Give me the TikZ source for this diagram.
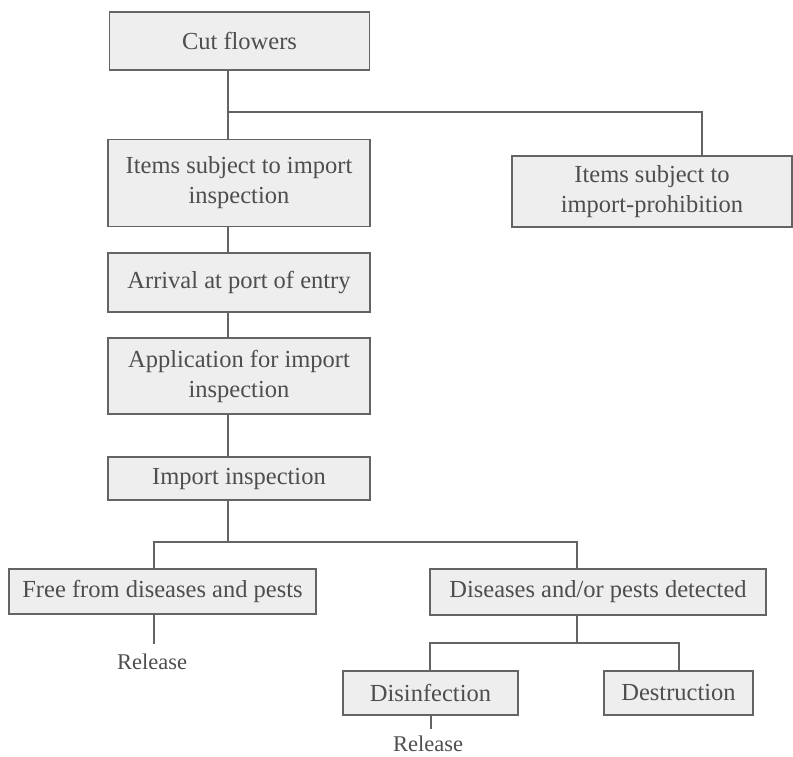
\documentclass[tikz,border=0pt]{standalone}
\usepackage{fontspec}
\setmainfont{Liberation Serif}
\usetikzlibrary{calc}
\definecolor{boxfill}{HTML}{EEEEEE}
\definecolor{boxline}{HTML}{646464}
\definecolor{boxtext}{HTML}{4E4E4E}
\tikzset{
  stagebox/.style={draw=boxline, fill=boxfill, line width=1.5pt, align=center,
    inner sep=0pt, text=boxtext, font=\fontsize{24.5}{30}\selectfont},
  link/.style={draw=boxline, line width=1.5pt},
  endlabel/.style={text=boxtext, font=\fontsize{22.5}{26}\selectfont}
}

\begin{document}
\begin{tikzpicture}[x=1pt,y=-1pt]
	\useasboundingbox (0,0) rectangle (793,757);
	% boxes
	\node [stagebox, minimum width=260pt, minimum height=58pt] (cut) at (239.5,41) {Cut flowers};
	\node [stagebox, minimum width=262pt, minimum height=87pt] (items) at (239,183) {Items subject to import\\inspection};
	\node [stagebox, minimum width=280pt, minimum height=71pt] (prohib) at (652,191.5) {Items subject to\\import-prohibition};
	\node [stagebox, minimum width=262pt, minimum height=59pt] (arrival) at (239,282.5) {Arrival at port of entry};
	\node [stagebox, minimum width=262pt, minimum height=76pt] (appl) at (239,376) {Application for import\\inspection};
	\node [stagebox, minimum width=262pt, minimum height=43pt] (insp) at (239,478.5) {Import inspection};
	\node [stagebox, minimum width=307pt, minimum height=45pt] (free) at (162.5,591.5) {Free from diseases and pests};
	\node [stagebox, minimum width=336pt, minimum height=46pt] (detect) at (598,592) {Diseases and/or pests detected};
	\node [stagebox, minimum width=175pt, minimum height=44pt] (disinf) at (430.5,693) {Disinfection};
	\node [stagebox, minimum width=149pt, minimum height=44pt] (destr) at (678.5,693) {Destruction};
	\node [endlabel] (relfree) at (152,662) {Release};
	\node [endlabel] (reldis) at (428,744) {Release};
	% junctions
	\coordinate (j1) at (228,112);
	\coordinate (p1) at (702,112);
	\coordinate (j2) at (228,542);
	\coordinate (f2) at (154,542);
	\coordinate (d2) at (577,542);
	\coordinate (j3) at (577,643);
	\coordinate (s3) at (430,643);
	\coordinate (t3) at (679,643);
	\coordinate (e1) at (154,644);
	\coordinate (e2) at (431,729);
	% connectors
	\draw [link] (cut.south -| j1) -- (items.north -| j1);
	\draw [link] (j1) -- (p1) -- (prohib.north -| p1);
	\draw [link] (items.south -| j1) -- (arrival.north -| j1);
	\draw [link] (arrival.south -| j1) -- (appl.north -| j1);
	\draw [link] (appl.south -| j1) -- (insp.north -| j1);
	\draw [link] (insp.south -| j2) -- (j2);
	\draw [link] (free.north -| f2) -- (f2) -- (d2) -- (detect.north -| d2);
	\draw [link] (detect.south -| j3) -- (j3);
	\draw [link] (disinf.north -| s3) -- (s3) -- (t3) -- (destr.north -| t3);
	\draw [link] (free.south -| e1) -- (e1);
	\draw [link] (disinf.south -| e2) -- (e2);
\end{tikzpicture}
\end{document}
